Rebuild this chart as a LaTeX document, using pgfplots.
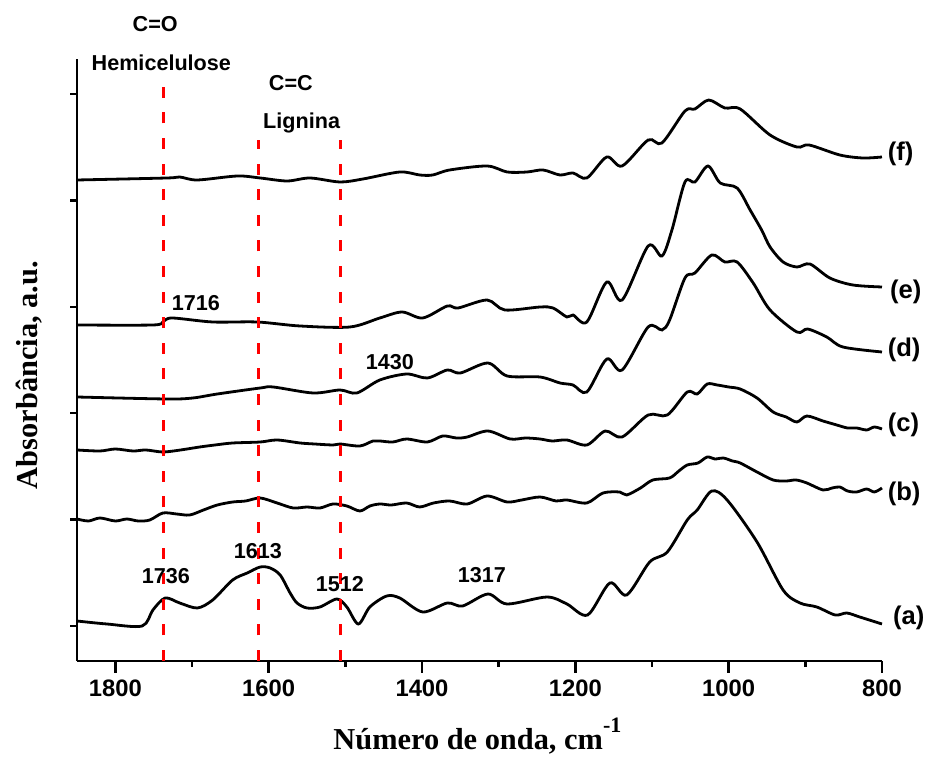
\documentclass[border=0pt]{standalone}
\usepackage{pgfplots}
\pgfplotsset{compat=1.18}
\usepackage{fontspec}
\setmainfont{Liberation Sans}
\newfontfamily\timesfont{Liberation Serif}

\begin{document}
\begin{tikzpicture}
\useasboundingbox (0,0) rectangle (463.5pt,380pt);
\begin{axis}[
  at={(38.5pt,49.5pt)}, anchor=south west,
  scale only axis, width=402.5pt, height=301pt,
  xmin=800, xmax=1850, ymin=99, ymax=701,
  x dir=reverse,
  axis x line*=bottom, axis y line*=left,
  every non boxed x axis/.append style={x axis line style={-}},
  every non boxed y axis/.append style={y axis line style={-}},
  axis line style={line width=1.2pt, -},
  tick style={line width=1.2pt, black},
  tick align=outside,
  major tick length=6pt, minor tick length=3pt,
  xtick={800,1000,...,1800}, minor x tick num=1,
  ytick=\empty,
  /pgf/number format/assume math mode=true,
  /pgf/number format/1000 sep={},
  xticklabel style={font=\bfseries\fontsize{11.9}{14}\selectfont},
  clip=false,
]

% offset spectra, bottom to top: (a) ... (f)
\addplot[black, line width=1.4pt, smooth] coordinates {
(1850,139) (1811,136) (1765,134) (1751,150) (1735,162) (1716,157) (1693,152)
(1673,160) (1647,180) (1628,187) (1611,193) (1598,192) (1585,185) (1572,167)
(1563,157) (1550,152) (1533,153) (1511,161) (1498,153) (1483,136) (1468,153)
(1446,164) (1429,162) (1399,148) (1367,157) (1347,154) (1314,166) (1289,156)
(1237,163) (1211,156) (1184,145) (1155,177) (1133,165) (1103,198) (1080,208)
(1054,240) (1041,250) (1022,269) (1002,260) (963,218) (929,170) (907,157)
(885,153) (861,145) (846,147) (829,143) (800,136)};

\addplot[black, line width=1.4pt, smooth] coordinates {
(1850,241) (1835,239) (1820,242) (1800,239) (1785,241) (1770,239) (1755,240)
(1738,247) (1720,246) (1703,245) (1685,250) (1667,255) (1647,258) (1630,259)
(1611,262) (1589,257) (1568,252) (1550,253) (1533,252) (1516,256) (1498,254)
(1481,249) (1468,254) (1455,256) (1440,255) (1420,257) (1403,253) (1385,257)
(1364,259) (1341,256) (1315,264) (1289,258) (1270,260) (1246,263) (1225,259)
(1211,260) (1185,257) (1164,267) (1142,268) (1133,265) (1115,272) (1099,280)
(1077,282) (1065,289) (1054,295) (1040,297) (1028,303) (1018,301) (1007,302)
(995,299) (985,297) (963,288) (942,280) (925,279) (912,280) (898,277)
(877,270) (865,272) (855,273) (845,269) (833,268) (820,271) (810,268) (800,272)};

\addplot[black, line width=1.4pt, smooth] coordinates {
(1850,310) (1820,309) (1800,311) (1777,309) (1760,310) (1738,308) (1715,310)
(1690,313) (1670,315) (1647,317) (1611,318) (1589,320) (1559,317) (1540,316)
(1516,315) (1507,316) (1481,314) (1464,319) (1455,319) (1438,318) (1420,321)
(1393,318) (1373,324) (1355,322) (1341,323) (1314,329) (1285,321) (1265,322)
(1246,321) (1230,319) (1211,320) (1185,315) (1161,329) (1139,323) (1105,345)
(1080,345) (1054,368) (1041,366) (1028,376) (1015,375) (1000,373) (985,371)
(963,362) (942,348) (925,343) (911,338) (898,344) (877,339) (859,335) (845,332)
(833,332) (820,330) (810,333) (800,331)};

\addplot[black, line width=1.4pt, smooth] coordinates {
(1850,363) (1733,361) (1699,362) (1667,366) (1611,372) (1594,373) (1542,367)
(1507,370) (1485,367) (1455,380) (1420,386) (1393,382) (1367,390) (1350,387)
(1314,397) (1289,384) (1246,383) (1220,377) (1203,375) (1185,368) (1159,401)
(1139,390) (1105,433) (1087,430) (1077,440) (1057,482) (1044,487) (1022,505)
(1005,498) (989,498) (968,477) (946,450) (911,428) (897,431) (872,423)
(851,413) (800,408)};

\addplot[black, line width=1.4pt, smooth] coordinates {
(1850,435) (1751,435) (1738,438) (1726,442) (1673,438) (1615,438) (1559,434)
(1494,433) (1455,442) (1426,448) (1399,442) (1367,454) (1353,452) (1315,460)
(1292,450) (1246,453) (1229,452) (1211,443) (1203,445) (1185,438) (1159,478)
(1139,460) (1105,514) (1087,504) (1074,530) (1057,578) (1044,578) (1027,594)
(1011,577) (989,572) (972,550) (957,530) (946,513) (929,498) (911,493)
(894,496) (868,482) (838,475) (800,473)};

\addplot[black, line width=1.4pt, smooth] coordinates {
(1850,580) (1733,582) (1716,583) (1693,580) (1641,584) (1611,582) (1576,579)
(1546,582) (1507,578) (1477,581) (1429,588) (1403,585) (1386,585) (1364,590)
(1315,594) (1289,588) (1263,588) (1242,590) (1220,585) (1203,587) (1185,582)
(1159,603) (1139,594) (1105,620) (1087,617) (1057,649) (1044,651) (1026,660)
(1005,652) (985,651) (946,625) (911,613) (895,615) (855,605) (825,602)
(800,603)};

% band markers
\addplot[red, line width=1.6pt, dash pattern=on 5.5pt off 7.3pt] coordinates {(1737,99) (1737,680)};
\addplot[red, line width=1.6pt, dash pattern=on 5.5pt off 7.3pt] coordinates {(1613,99) (1613,620)};
\addplot[red, line width=1.6pt, dash pattern=on 5.5pt off 7.3pt] coordinates {(1506,99) (1506,620)};

% left axis ticks (no labels)
\pgfplotsinvokeforeach{134,240.4,346.8,453.2,559.6,666}{
  \draw[line width=1.2pt] (axis cs:1850,#1) -- ++(-3.5pt,0pt);
}

\begin{scope}[every node/.style={inner sep=0pt, font=\bfseries\fontsize{10.8}{13}\selectfont}]
\node at (axis cs:1748,736) {C=O};
\node at (axis cs:1740,697) {Hemicelulose};
\node at (axis cs:1571,677) {C=C};
\node at (axis cs:1557,637) {Lignina};
\node at (axis cs:1695,457) {1716};
\node at (axis cs:1442,398) {1430};
\node at (axis cs:1614,209) {1613};
\node at (axis cs:1734,184) {1736};
\node at (axis cs:1507,176) {1512};
\node at (axis cs:1322,185) {1317};
\end{scope}

\begin{scope}[every node/.style={inner sep=0pt, anchor=west, font=\bfseries\fontsize{12.8}{15}\selectfont}]
\node at (axis cs:793,606) {(f)};
\node at (axis cs:790,468) {(e)};
\node at (axis cs:793,410) {(d)};
\node at (axis cs:793,335) {(c)};
\node at (axis cs:793,266) {(b)};
\node at (axis cs:786,142) {(a)};
\end{scope}
\end{axis}

\node[anchor=base west, inner sep=0pt, font=\timesfont\bfseries\fontsize{15.2}{18}\selectfont]
  at (166.5pt,5pt) {Número de onda, cm\raisebox{8.5pt}{\fontsize{11}{13}\selectfont -1}};
\node[anchor=base, rotate=90, inner sep=0pt, font=\timesfont\bfseries\fontsize{15.2}{18}\selectfont]
  at (18.5pt,192.5pt) {Absorbância, a.u.};
\end{tikzpicture}
\end{document}
